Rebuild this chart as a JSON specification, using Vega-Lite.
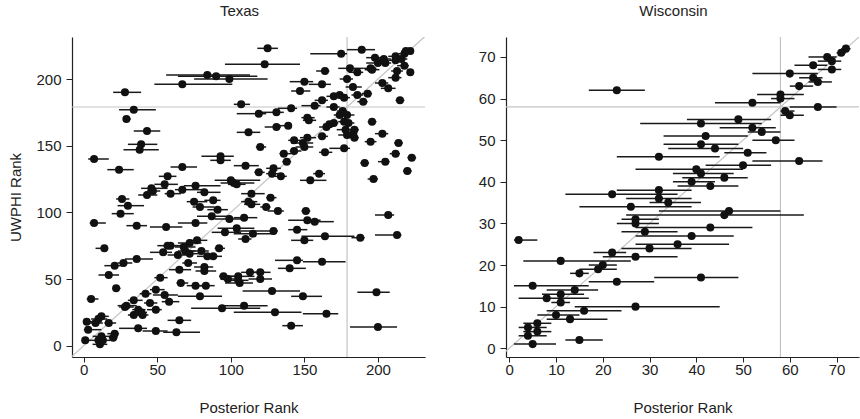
{
"$schema": "https://vega.github.io/schema/vega-lite/v6.json",
"padding": {"left": 8, "top": 4, "right": 3, "bottom": 0},
"background": "white",
"config": {
 "font": "Liberation Sans",
 "view": {"stroke": null},
 "axis": {"grid": false, "domainColor": "#222", "tickColor": "#222", "labelColor": "#222", "titleColor": "#222", "labelFontSize": 15, "titleFontSize": 15, "titleFontWeight": "normal", "domainWidth": 1.2, "tickWidth": 1},
 "title": {"fontSize": 15, "fontWeight": "normal", "color": "#222", "offset": 17, "dx": -9},
 "concat": {"spacing": 52}
},
"datasets": {
 "texas": [
{"r":125,"u":223,"lo":118,"hi":132},{"r":175,"u":219,"lo":154,"hi":179},{"r":189,"u":222,"lo":179,"hi":198},{"r":123,"u":211,"lo":96,"hi":147},{"r":84,"u":203,"lo":56,"hi":113},{"r":90,"u":202,"lo":64,"hi":118},{"r":99,"u":200,"lo":75,"hi":125},{"r":67,"u":196,"lo":48,"hi":101},{"r":28,"u":190,"lo":20,"hi":39},{"r":34,"u":177,"lo":24,"hi":49},{"r":29,"u":170,"lo":27,"hi":32},{"r":43,"u":161,"lo":34,"hi":52},{"r":39,"u":151,"lo":30,"hi":50},{"r":38,"u":147,"lo":27,"hi":51},{"r":7,"u":140,"lo":3,"hi":17},{"r":24,"u":132,"lo":16,"hi":34},{"r":7,"u":92,"lo":4,"hi":15},{"r":14,"u":73,"lo":8,"hi":16},{"r":5,"u":35,"lo":2,"hi":10},{"r":2,"u":18,"lo":0,"hi":8},{"r":3,"u":12,"lo":0,"hi":12},{"r":1,"u":4,"lo":0,"hi":5},{"r":10,"u":20,"lo":5,"hi":16},{"r":12,"u":22,"lo":8,"hi":17},{"r":8,"u":17,"lo":4,"hi":13},{"r":12,"u":7,"lo":6,"hi":20},{"r":11,"u":1,"lo":6,"hi":16},{"r":10,"u":4,"lo":5,"hi":15},{"r":13,"u":4,"lo":9,"hi":18},{"r":17,"u":17,"lo":14,"hi":22},{"r":21,"u":9,"lo":16,"hi":24},{"r":20,"u":6,"lo":17,"hi":23},{"r":22,"u":43,"lo":20,"hi":25},{"r":17,"u":53,"lo":10,"hi":24},{"r":21,"u":60,"lo":14,"hi":28},{"r":27,"u":62,"lo":23,"hi":33},{"r":36,"u":65,"lo":28,"hi":47},{"r":36,"u":90,"lo":29,"hi":43},{"r":25,"u":99,"lo":19,"hi":34},{"r":26,"u":110,"lo":22,"hi":31},{"r":30,"u":105,"lo":23,"hi":41},{"r":43,"u":113,"lo":37,"hi":50},{"r":46,"u":118,"lo":39,"hi":57},{"r":47,"u":116,"lo":43,"hi":52},{"r":55,"u":121,"lo":48,"hi":64},{"r":57,"u":127,"lo":51,"hi":63},{"r":59,"u":114,"lo":55,"hi":66},{"r":67,"u":134,"lo":59,"hi":77},{"r":67,"u":117,"lo":62,"hi":82},{"r":56,"u":89,"lo":45,"hi":67},{"r":76,"u":120,"lo":68,"hi":93},{"r":75,"u":108,"lo":70,"hi":84},{"r":79,"u":104,"lo":74,"hi":89},{"r":82,"u":115,"lo":77,"hi":93},{"r":88,"u":109,"lo":82,"hi":93},{"r":91,"u":102,"lo":84,"hi":98},{"r":87,"u":97,"lo":77,"hi":100},{"r":76,"u":92,"lo":64,"hi":84},{"r":93,"u":142,"lo":80,"hi":102},{"r":93,"u":139,"lo":86,"hi":100},{"r":100,"u":124,"lo":89,"hi":120},{"r":102,"u":122,"lo":93,"hi":116},{"r":104,"u":121,"lo":98,"hi":110},{"r":110,"u":135,"lo":102,"hi":119},{"r":112,"u":160,"lo":104,"hi":120},{"r":107,"u":181,"lo":102,"hi":113},{"r":119,"u":174,"lo":104,"hi":124},{"r":120,"u":149,"lo":117,"hi":124},{"r":119,"u":130,"lo":116,"hi":123},{"r":114,"u":114,"lo":107,"hi":123},{"r":112,"u":108,"lo":107,"hi":118},{"r":114,"u":106,"lo":109,"hi":120},{"r":109,"u":96,"lo":102,"hi":118},{"r":99,"u":95,"lo":89,"hi":107},{"r":104,"u":88,"lo":91,"hi":116},{"r":96,"u":85,"lo":87,"hi":107},{"r":115,"u":84,"lo":102,"hi":130},{"r":110,"u":80,"lo":105,"hi":114},{"r":129,"u":86,"lo":102,"hi":132},{"r":127,"u":111,"lo":124,"hi":131},{"r":124,"u":104,"lo":120,"hi":127},{"r":132,"u":101,"lo":125,"hi":136},{"r":129,"u":133,"lo":124,"hi":134},{"r":128,"u":129,"lo":124,"hi":133},{"r":134,"u":127,"lo":130,"hi":138},{"r":131,"u":164,"lo":123,"hi":134},{"r":139,"u":165,"lo":130,"hi":141},{"r":131,"u":175,"lo":118,"hi":136},{"r":141,"u":178,"lo":132,"hi":145},{"r":136,"u":144,"lo":133,"hi":141},{"r":138,"u":138,"lo":135,"hi":141},{"r":143,"u":146,"lo":140,"hi":148},{"r":143,"u":154,"lo":139,"hi":147},{"r":149,"u":152,"lo":141,"hi":156},{"r":150,"u":149,"lo":144,"hi":156},{"r":152,"u":156,"lo":147,"hi":158},{"r":152,"u":171,"lo":148,"hi":157},{"r":153,"u":169,"lo":149,"hi":158},{"r":147,"u":191,"lo":141,"hi":154},{"r":150,"u":198,"lo":140,"hi":156},{"r":162,"u":196,"lo":153,"hi":168},{"r":164,"u":206,"lo":158,"hi":167},{"r":157,"u":180,"lo":148,"hi":161},{"r":162,"u":184,"lo":157,"hi":166},{"r":162,"u":157,"lo":159,"hi":166},{"r":165,"u":164,"lo":160,"hi":169},{"r":167,"u":166,"lo":163,"hi":171},{"r":170,"u":167,"lo":167,"hi":173},{"r":164,"u":145,"lo":160,"hi":169},{"r":154,"u":124,"lo":147,"hi":165},{"r":160,"u":129,"lo":156,"hi":164},{"r":151,"u":101,"lo":148,"hi":154},{"r":152,"u":94,"lo":139,"hi":161},{"r":157,"u":93,"lo":150,"hi":170},{"r":145,"u":87,"lo":139,"hi":152},{"r":150,"u":79,"lo":141,"hi":156},{"r":164,"u":82,"lo":148,"hi":184},{"r":188,"u":81,"lo":182,"hi":191},{"r":213,"u":83,"lo":198,"hi":216},{"r":207,"u":98,"lo":198,"hi":211},{"r":162,"u":63,"lo":149,"hi":178},{"r":145,"u":64,"lo":130,"hi":149},{"r":140,"u":58,"lo":132,"hi":151},{"r":149,"u":37,"lo":141,"hi":162},{"r":165,"u":24,"lo":149,"hi":173},{"r":130,"u":25,"lo":102,"hi":148},{"r":141,"u":15,"lo":135,"hi":149},{"r":128,"u":41,"lo":108,"hi":147},{"r":199,"u":40,"lo":186,"hi":208},{"r":200,"u":14,"lo":181,"hi":213},{"r":120,"u":50,"lo":112,"hi":128},{"r":120,"u":55,"lo":112,"hi":127},{"r":113,"u":55,"lo":107,"hi":123},{"r":105,"u":52,"lo":96,"hi":116},{"r":106,"u":47,"lo":96,"hi":115},{"r":105,"u":49,"lo":98,"hi":112},{"r":95,"u":52,"lo":92,"hi":107},{"r":98,"u":50,"lo":93,"hi":104},{"r":109,"u":30,"lo":93,"hi":125},{"r":94,"u":28,"lo":73,"hi":120},{"r":83,"u":45,"lo":74,"hi":89},{"r":76,"u":45,"lo":70,"hi":82},{"r":79,"u":37,"lo":64,"hi":94},{"r":82,"u":59,"lo":75,"hi":88},{"r":82,"u":56,"lo":76,"hi":90},{"r":84,"u":67,"lo":77,"hi":91},{"r":88,"u":67,"lo":82,"hi":94},{"r":92,"u":73,"lo":89,"hi":96},{"r":80,"u":71,"lo":74,"hi":85},{"r":77,"u":79,"lo":71,"hi":84},{"r":72,"u":77,"lo":64,"hi":80},{"r":68,"u":74,"lo":62,"hi":76},{"r":69,"u":71,"lo":64,"hi":76},{"r":72,"u":69,"lo":67,"hi":80},{"r":64,"u":68,"lo":57,"hi":70},{"r":71,"u":62,"lo":67,"hi":77},{"r":65,"u":57,"lo":58,"hi":73},{"r":66,"u":47,"lo":63,"hi":71},{"r":57,"u":75,"lo":50,"hi":64},{"r":59,"u":75,"lo":54,"hi":66},{"r":54,"u":70,"lo":45,"hi":60},{"r":52,"u":51,"lo":48,"hi":57},{"r":49,"u":42,"lo":45,"hi":55},{"r":55,"u":38,"lo":47,"hi":64},{"r":58,"u":33,"lo":53,"hi":65},{"r":49,"u":27,"lo":43,"hi":53},{"r":45,"u":32,"lo":41,"hi":50},{"r":42,"u":39,"lo":38,"hi":46},{"r":34,"u":34,"lo":30,"hi":40},{"r":29,"u":30,"lo":23,"hi":36},{"r":28,"u":29,"lo":24,"hi":34},{"r":39,"u":25,"lo":33,"hi":43},{"r":37,"u":27,"lo":33,"hi":42},{"r":34,"u":23,"lo":30,"hi":40},{"r":40,"u":23,"lo":36,"hi":44},{"r":37,"u":13,"lo":24,"hi":43},{"r":49,"u":11,"lo":40,"hi":57},{"r":65,"u":19,"lo":57,"hi":73},{"r":63,"u":10,"lo":54,"hi":79},{"r":198,"u":216,"lo":192,"hi":203},{"r":204,"u":215,"lo":199,"hi":209},{"r":212,"u":217,"lo":207,"hi":216},{"r":218,"u":219,"lo":214,"hi":221},{"r":222,"u":221,"lo":219,"hi":224},{"r":216,"u":215,"lo":210,"hi":220},{"r":212,"u":214,"lo":207,"hi":217},{"r":200,"u":212,"lo":192,"hi":205},{"r":205,"u":212,"lo":199,"hi":209},{"r":218,"u":210,"lo":213,"hi":221},{"r":222,"u":205,"lo":220,"hi":224},{"r":213,"u":206,"lo":209,"hi":217},{"r":181,"u":208,"lo":173,"hi":190},{"r":186,"u":205,"lo":180,"hi":190},{"r":195,"u":208,"lo":190,"hi":199},{"r":212,"u":201,"lo":207,"hi":216},{"r":179,"u":200,"lo":174,"hi":183},{"r":183,"u":194,"lo":178,"hi":189},{"r":203,"u":197,"lo":198,"hi":207},{"r":207,"u":193,"lo":202,"hi":212},{"r":215,"u":184,"lo":212,"hi":218},{"r":170,"u":187,"lo":165,"hi":174},{"r":174,"u":188,"lo":170,"hi":179},{"r":177,"u":186,"lo":173,"hi":181},{"r":186,"u":188,"lo":182,"hi":190},{"r":193,"u":189,"lo":189,"hi":196},{"r":190,"u":183,"lo":186,"hi":193},{"r":170,"u":179,"lo":165,"hi":174},{"r":174,"u":173,"lo":170,"hi":178},{"r":176,"u":176,"lo":172,"hi":179},{"r":179,"u":173,"lo":176,"hi":184},{"r":177,"u":168,"lo":173,"hi":181},{"r":180,"u":167,"lo":176,"hi":184},{"r":184,"u":162,"lo":180,"hi":187},{"r":183,"u":159,"lo":179,"hi":186},{"r":184,"u":156,"lo":180,"hi":187},{"r":178,"u":162,"lo":172,"hi":183},{"r":179,"u":158,"lo":173,"hi":184},{"r":196,"u":168,"lo":193,"hi":199},{"r":203,"u":159,"lo":198,"hi":207},{"r":195,"u":153,"lo":191,"hi":199},{"r":214,"u":152,"lo":211,"hi":217},{"r":212,"u":144,"lo":208,"hi":215},{"r":205,"u":138,"lo":200,"hi":208},{"r":191,"u":137,"lo":188,"hi":194},{"r":223,"u":141,"lo":220,"hi":226},{"r":220,"u":131,"lo":217,"hi":223},{"r":197,"u":125,"lo":193,"hi":200},{"r":177,"u":148,"lo":167,"hi":181},{"r":219,"u":221,"lo":216,"hi":222},{"r":196,"u":207,"lo":191,"hi":201}
 ],
 "wisc": [
{"r":72,"u":72,"lo":71,"hi":73},{"r":71,"u":71,"lo":70,"hi":72},{"r":68,"u":70,"lo":64,"hi":70},{"r":69,"u":69,"lo":66,"hi":71},{"r":65,"u":68,"lo":61,"hi":68},{"r":69,"u":67,"lo":66,"hi":71},{"r":60,"u":66,"lo":52,"hi":66},{"r":65,"u":65,"lo":62,"hi":67},{"r":66,"u":64,"lo":64,"hi":69},{"r":62,"u":63,"lo":60,"hi":65},{"r":23,"u":62,"lo":17,"hi":29},{"r":58,"u":61,"lo":53,"hi":63},{"r":58,"u":60,"lo":56,"hi":61},{"r":52,"u":59,"lo":44,"hi":58},{"r":66,"u":58,"lo":60,"hi":70},{"r":59,"u":57,"lo":58,"hi":61},{"r":60,"u":56,"lo":58,"hi":63},{"r":49,"u":55,"lo":38,"hi":56},{"r":41,"u":54,"lo":28,"hi":54},{"r":52,"u":53,"lo":45,"hi":57},{"r":54,"u":52,"lo":51,"hi":58},{"r":42,"u":51,"lo":33,"hi":51},{"r":57,"u":50,"lo":52,"hi":61},{"r":41,"u":49,"lo":33,"hi":49},{"r":44,"u":48,"lo":34,"hi":50},{"r":51,"u":47,"lo":46,"hi":55},{"r":32,"u":46,"lo":23,"hi":45},{"r":62,"u":45,"lo":52,"hi":67},{"r":50,"u":44,"lo":42,"hi":56},{"r":40,"u":43,"lo":27,"hi":50},{"r":41,"u":42,"lo":35,"hi":48},{"r":46,"u":41,"lo":37,"hi":51},{"r":39,"u":40,"lo":35,"hi":44},{"r":43,"u":39,"lo":36,"hi":49},{"r":32,"u":38,"lo":23,"hi":39},{"r":22,"u":37,"lo":12,"hi":36},{"r":32,"u":36,"lo":25,"hi":39},{"r":34,"u":35,"lo":30,"hi":41},{"r":26,"u":34,"lo":15,"hi":39},{"r":47,"u":33,"lo":32,"hi":58},{"r":46,"u":32,"lo":25,"hi":63},{"r":27,"u":31,"lo":24,"hi":32},{"r":27,"u":30,"lo":23,"hi":32},{"r":43,"u":29,"lo":27,"hi":52},{"r":29,"u":28,"lo":24,"hi":36},{"r":39,"u":27,"lo":27,"hi":48},{"r":2,"u":26,"lo":1,"hi":6},{"r":36,"u":25,"lo":27,"hi":47},{"r":30,"u":24,"lo":24,"hi":39},{"r":22,"u":23,"lo":18,"hi":25},{"r":27,"u":22,"lo":20,"hi":36},{"r":11,"u":21,"lo":3,"hi":26},{"r":20,"u":20,"lo":17,"hi":23},{"r":19,"u":19,"lo":15,"hi":23},{"r":15,"u":18,"lo":13,"hi":17},{"r":41,"u":17,"lo":31,"hi":49},{"r":23,"u":16,"lo":17,"hi":31},{"r":5,"u":15,"lo":1,"hi":17},{"r":14,"u":14,"lo":8,"hi":19},{"r":11,"u":13,"lo":7,"hi":16},{"r":8,"u":12,"lo":2,"hi":17},{"r":11,"u":11,"lo":9,"hi":13},{"r":27,"u":10,"lo":14,"hi":45},{"r":16,"u":9,"lo":8,"hi":24},{"r":10,"u":8,"lo":6,"hi":15},{"r":13,"u":7,"lo":8,"hi":21},{"r":6,"u":6,"lo":3,"hi":9},{"r":4,"u":5,"lo":2,"hi":8},{"r":6,"u":4,"lo":3,"hi":9},{"r":4,"u":3,"lo":2,"hi":8},{"r":15,"u":2,"lo":12,"hi":20},{"r":5,"u":1,"lo":1,"hi":10}
 ]
},
"hconcat": [
 {
  "title": "Texas",
  "width": 353, "height": 320,
  "layer": [
   {"data": {"values": [{"a": -20, "b": -20, "c": 260, "d": 260}]},
    "mark": {"type": "rule", "color": "#c4c4c4", "strokeWidth": 1.2, "clip": true},
    "encoding": {
     "x": {"field": "a", "type": "quantitative", "scale": {"domain": [-8, 232], "nice": false, "zero": false}, "axis": {"values": [0,50,100,150,200], "title": "Posterior Rank", "titlePadding": 23, "labelPadding": 0, "tickSize": 5}},
     "y": {"field": "b", "type": "quantitative", "scale": {"domain": [-8.5, 231.5], "nice": false, "zero": false}, "axis": {"values": [0,50,100,150,200], "title": "UWPHI Rank", "titlePadding": 12, "labelPadding": 5, "tickSize": 6}},
     "x2": {"field": "c"}, "y2": {"field": "d"}}},
   {"data": {"values": [{"v": 179}]},
    "mark": {"type": "rule", "color": "#c4c4c4", "strokeWidth": 1.2},
    "encoding": {"x": {"field": "v", "type": "quantitative", "title": "Posterior Rank"}}},
   {"data": {"values": [{"v": 179}]},
    "mark": {"type": "rule", "color": "#c4c4c4", "strokeWidth": 1.2},
    "encoding": {"y": {"field": "v", "type": "quantitative", "title": "UWPHI Rank"}}},
   {"data": {"name": "texas"},
    "mark": {"type": "rule", "color": "#1a1a1a", "strokeWidth": 1.5, "clip": true},
    "encoding": {"x": {"field": "lo", "type": "quantitative", "title": "Posterior Rank"}, "x2": {"field": "hi"}, "y": {"field": "u", "type": "quantitative", "title": "UWPHI Rank"}}},
   {"data": {"name": "texas"},
    "mark": {"type": "circle", "color": "#111", "opacity": 1, "size": 65},
    "encoding": {"x": {"field": "r", "type": "quantitative", "title": "Posterior Rank"}, "y": {"field": "u", "type": "quantitative", "title": "UWPHI Rank"}}}
  ]
 },
 {
  "title": "Wisconsin",
  "width": 353, "height": 320,
  "layer": [
   {"data": {"values": [{"a": -20, "b": -20, "c": 100, "d": 100}]},
    "mark": {"type": "rule", "color": "#c4c4c4", "strokeWidth": 1.2, "clip": true},
    "encoding": {
     "x": {"field": "a", "type": "quantitative", "scale": {"domain": [-0.7, 74.8], "nice": false, "zero": false}, "axis": {"values": [0,10,20,30,40,50,60,70], "title": "Posterior Rank", "titlePadding": 23, "labelPadding": 0, "tickSize": 5}},
     "y": {"field": "b", "type": "quantitative", "scale": {"domain": [-2.1, 74.8], "nice": false, "zero": false}, "axis": {"values": [0,10,20,30,40,50,60,70], "title": null, "labelPadding": 5, "tickSize": 6}},
     "x2": {"field": "c"}, "y2": {"field": "d"}}},
   {"data": {"values": [{"v": 58}]},
    "mark": {"type": "rule", "color": "#c4c4c4", "strokeWidth": 1.2},
    "encoding": {"x": {"field": "v", "type": "quantitative", "title": "Posterior Rank"}}},
   {"data": {"values": [{"v": 58}]},
    "mark": {"type": "rule", "color": "#c4c4c4", "strokeWidth": 1.2},
    "encoding": {"y": {"field": "v", "type": "quantitative", "title": null}}},
   {"data": {"name": "wisc"},
    "mark": {"type": "rule", "color": "#1a1a1a", "strokeWidth": 1.5, "clip": true},
    "encoding": {"x": {"field": "lo", "type": "quantitative", "title": "Posterior Rank"}, "x2": {"field": "hi"}, "y": {"field": "u", "type": "quantitative", "title": null}}},
   {"data": {"name": "wisc"},
    "mark": {"type": "circle", "color": "#111", "opacity": 1, "size": 65},
    "encoding": {"x": {"field": "r", "type": "quantitative", "title": "Posterior Rank"}, "y": {"field": "u", "type": "quantitative", "title": null}}}
  ]
 }
]
}
